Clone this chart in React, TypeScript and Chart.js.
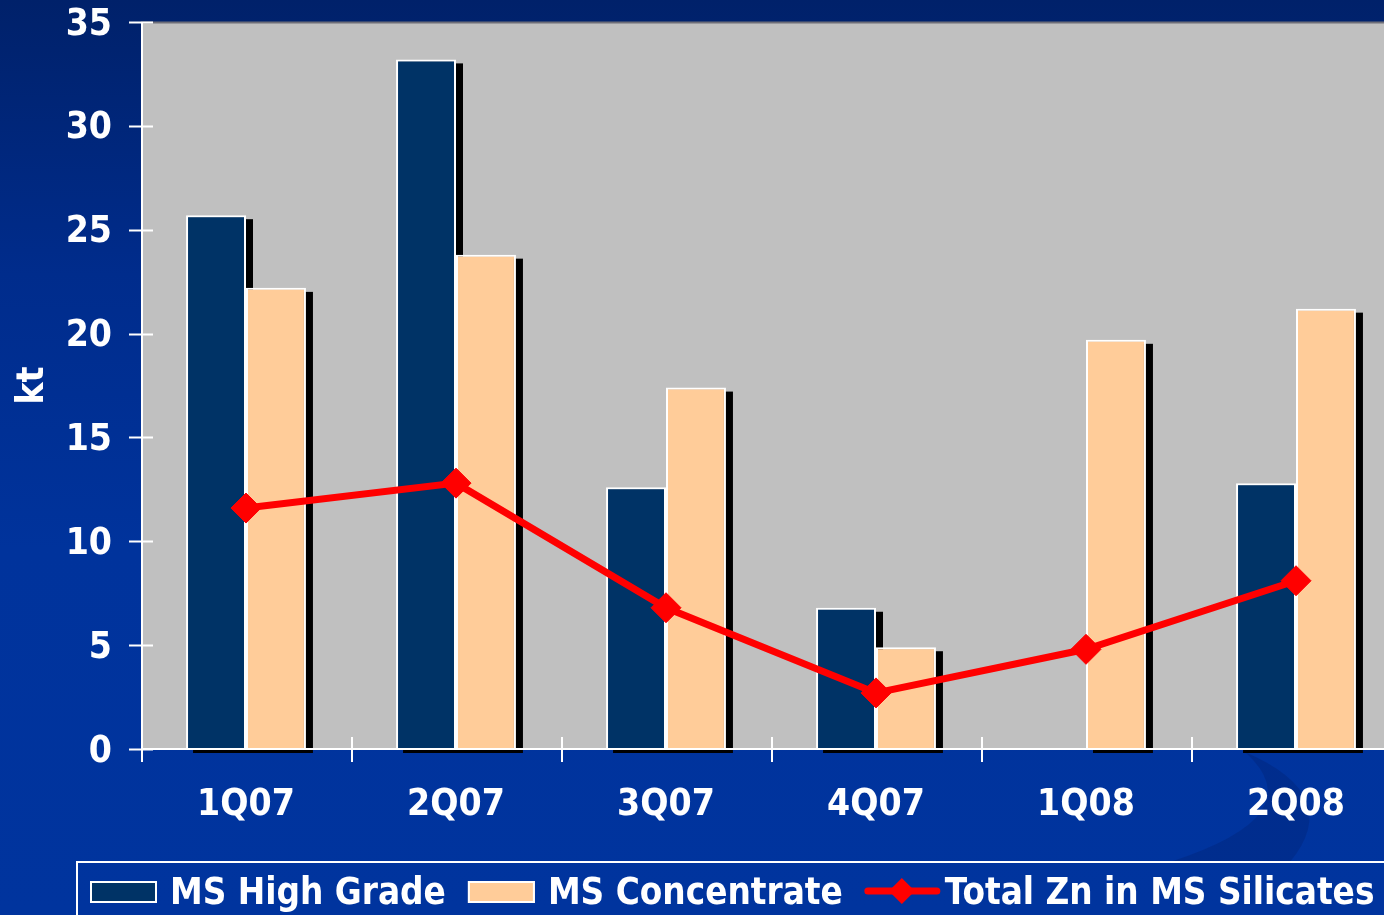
import React, { useEffect, useRef } from "react";
import { Chart, registerables } from "chart.js";

Chart.register(...registerables);

const categories = ["1Q07", "2Q07", "3Q07", "4Q07", "1Q08", "2Q08"];
const highGrade = [25.7, 33.2, 12.6, 6.8, 0, 12.8];
const concentrate = [22.2, 23.8, 17.4, 4.9, 19.7, 21.2];
const totalZn = [11.6, 12.8, 6.8, 2.7, 4.8, 8.1];
const seriesNames = ["MS High Grade", "MS Concentrate", "Total Zn in MS Silicates"];
const yMin = 0;
const yMax = 35;
const yStep = 5;

const FONT = '"DejaVu Sans Condensed", "DejaVu Sans", sans-serif';
const NAVY = "#003366";
const PEACH = "#FFCC99";
const RED = "#FF0000";

const CANVAS_W = 1420;
const CANVAS_H = 915;

const bgPlugin = {
  id: "bgPlugin",
  beforeDraw(chart: any) {
    const { ctx, chartArea } = chart;
    ctx.save();
    const g = ctx.createLinearGradient(0, 0, 0, CANVAS_H);
    g.addColorStop(0, "#00216A");
    g.addColorStop(0.3, "#002C8C");
    g.addColorStop(0.6, "#00339C");
    g.addColorStop(1, "#00349E");
    ctx.fillStyle = g;
    ctx.fillRect(0, 0, chart.width, chart.height);
    // faint swoosh in lower right
    ctx.fillStyle = "rgba(0,10,60,0.16)";
    ctx.beginPath();
    ctx.moveTo(1245, 752);
    ctx.quadraticCurveTo(1345, 795, 1290, 862);
    ctx.lineTo(1170, 862);
    ctx.quadraticCurveTo(1315, 815, 1245, 752);
    ctx.closePath();
    ctx.fill();
    ctx.fillStyle = "#C0C0C0";
    ctx.fillRect(chartArea.left, chartArea.top, chartArea.right - chartArea.left, chartArea.bottom - chartArea.top);
    ctx.strokeStyle = "#6E6E78";
    ctx.lineWidth = 2;
    ctx.beginPath();
    ctx.moveTo(chartArea.left, chartArea.top + 0.5);
    ctx.lineTo(chart.width, chartArea.top + 0.5);
    ctx.stroke();
    ctx.restore();
  },
};

const shadowPlugin = {
  id: "shadowPlugin",
  beforeDatasetsDraw(chart: any) {
    const ctx = chart.ctx;
    ctx.save();
    ctx.fillStyle = "#000000";
    chart.data.datasets.forEach((_ds: any, i: number) => {
      const meta = chart.getDatasetMeta(i);
      if (meta.type !== "bar") return;
      meta.data.forEach((el: any) => {
        const p = el.getProps(["x", "y", "base", "width"], true);
        const h = p.base - p.y;
        if (h <= 0) return;
        ctx.fillRect(p.x - p.width / 2 + 7, p.y + 4, p.width, h);
      });
    });
    ctx.restore();
  },
};

const axisPlugin = {
  id: "axisPlugin",
  afterDatasetsDraw(chart: any) {
    const { ctx, chartArea, scales } = chart;
    const x = scales.x;
    const y = scales.y;
    ctx.save();
    ctx.strokeStyle = "#FFFFFF";
    ctx.lineWidth = 2;
    const y0 = y.getPixelForValue(0);
    ctx.beginPath();
    ctx.moveTo(chartArea.left + 1, chartArea.top);
    ctx.lineTo(chartArea.left + 1, y0);
    ctx.moveTo(chartArea.left, y0);
    ctx.lineTo(chart.width, y0);
    for (let v = yMin; v <= yMax; v += yStep) {
      const py = Math.round(y.getPixelForValue(v)) + 0.5;
      ctx.moveTo(chartArea.left - 12, py);
      ctx.lineTo(chartArea.left + 12, py);
    }
    const step = x.getPixelForValue(1) - x.getPixelForValue(0);
    for (let i = 0; i <= categories.length; i++) {
      const px = Math.round(x.getPixelForValue(i) - step / 2) + 1;
      ctx.moveTo(px, y0 - 12);
      ctx.lineTo(px, y0 + 13);
    }
    ctx.stroke();
    ctx.restore();
  },
};

const legendPlugin = {
  id: "legendPlugin",
  afterDraw(chart: any) {
    const ctx = chart.ctx;
    ctx.save();
    ctx.strokeStyle = "#FFFFFF";
    ctx.lineWidth = 2;
    ctx.strokeRect(77, 862, 1500, 200);
    ctx.font = `bold 36.5px ${FONT}`;
    ctx.textBaseline = "alphabetic";
    ctx.textAlign = "left";
    let cx = 90;
    const colors = [NAVY, PEACH];
    for (let i = 0; i < 2; i++) {
      ctx.fillStyle = colors[i];
      ctx.fillRect(cx, 881, 67, 22);
      ctx.strokeStyle = "#FFFFFF";
      ctx.lineWidth = 2;
      ctx.strokeRect(cx + 1, 882, 65, 20);
      ctx.fillStyle = "#FFFFFF";
      ctx.fillText(seriesNames[i], cx + 80, 904);
      cx = cx + 80 + ctx.measureText(seriesNames[i]).width + 22;
    }
    ctx.strokeStyle = RED;
    ctx.lineWidth = 7;
    ctx.lineCap = "round";
    ctx.beginPath();
    ctx.moveTo(cx + 3, 891);
    ctx.lineTo(cx + 72, 891);
    ctx.stroke();
    const dx = cx + 37;
    ctx.fillStyle = RED;
    ctx.beginPath();
    ctx.moveTo(dx, 878);
    ctx.lineTo(dx + 13, 891);
    ctx.lineTo(dx, 904);
    ctx.lineTo(dx - 13, 891);
    ctx.closePath();
    ctx.fill();
    ctx.fillStyle = "#FFFFFF";
    ctx.fillText(seriesNames[2], cx + 80, 904);
    ctx.restore();
  },
};

export default function App() {
  const ref = useRef<HTMLCanvasElement | null>(null);
  useEffect(() => {
    if (!ref.current) return;
    const chart = new Chart(ref.current, {
      type: "bar",
      data: {
        labels: categories,
        datasets: [
          {
            type: "line",
            label: seriesNames[2],
            data: totalZn,
            borderColor: RED,
            backgroundColor: RED,
            borderWidth: 7,
            pointStyle: "rectRot",
            pointRadius: 15,
            pointBackgroundColor: RED,
            pointBorderColor: RED,
            pointBorderWidth: 1,
            tension: 0,
            order: 0,
            clip: false,
          } as any,
          {
            type: "bar",
            label: seriesNames[0],
            data: highGrade,
            backgroundColor: NAVY,
            borderColor: "#FFFFFF",
            borderWidth: 2,
            categoryPercentage: 0.571,
            barPercentage: 1,
            order: 1,
            clip: false,
          } as any,
          {
            type: "bar",
            label: seriesNames[1],
            data: concentrate,
            backgroundColor: PEACH,
            borderColor: "#FFFFFF",
            borderWidth: 2,
            categoryPercentage: 0.571,
            barPercentage: 1,
            order: 2,
            clip: false,
          } as any,
        ],
      },
      options: {
        responsive: false,
        animation: false,
        events: [],
        layout: { padding: { left: 0, right: 19, top: 22, bottom: 66 } },
        plugins: {
          legend: { display: false },
          tooltip: { enabled: false },
        },
        scales: {
          x: {
            offset: true,
            grid: { display: false, drawTicks: false, tickLength: 0 },
            border: { display: false },
            ticks: {
              color: "#FFFFFF",
              font: { family: FONT, size: 37, weight: "bold" },
              padding: 34,
              maxRotation: 0,
              autoSkip: false,
            },
            afterFit(scale: any) {
              scale.height = 100;
              scale.paddingLeft = 0;
              scale.paddingRight = 0;
            },
          },
          y: {
            min: yMin,
            max: yMax,
            grid: { display: false, drawTicks: false, tickLength: 0 },
            border: { display: false },
            ticks: {
              stepSize: yStep,
              color: "#FFFFFF",
              font: { family: FONT, size: 37, weight: "bold" },
              padding: 29,
              labelOffset: 3,
            },
            title: {
              display: true,
              text: "kt",
              color: "#FFFFFF",
              font: { family: FONT, size: 37, weight: "bold" },
              padding: { top: 11, bottom: 0 },
            },
            afterFit(scale: any) {
              scale.width = 141;
              scale.paddingTop = 0;
              scale.paddingBottom = 0;
            },
          },
        },
      } as any,
      plugins: [bgPlugin, shadowPlugin, axisPlugin, legendPlugin],
    });
    return () => chart.destroy();
  }, []);
  return (
    <div style={{ position: "absolute", left: 0, top: 0, width: 1384, height: 915, overflow: "hidden" }}>
      <canvas ref={ref} width={CANVAS_W} height={CANVAS_H} style={{ display: "block", width: CANVAS_W, height: CANVAS_H }} />
    </div>
  );
}
